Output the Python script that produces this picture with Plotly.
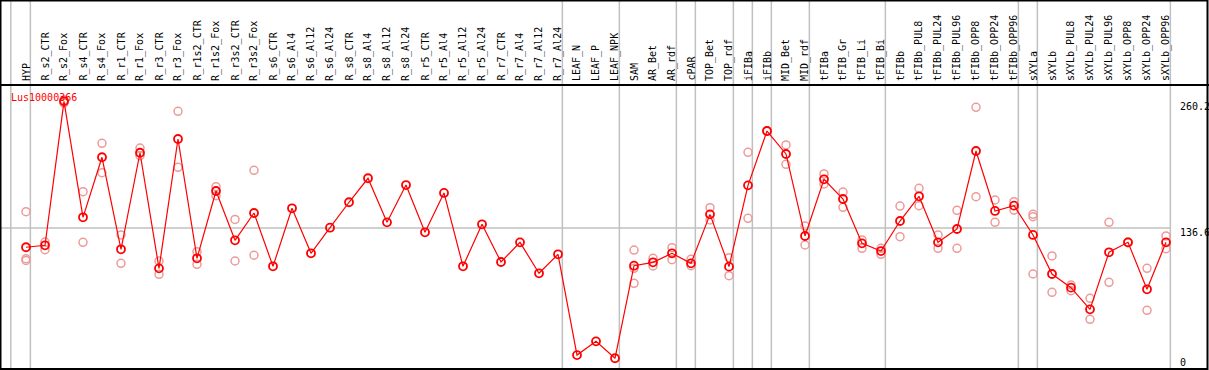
import plotly.graph_objects as go

categories = ["HYP", "R_s2_CTR", "R_s2_Fox", "R_s4_CTR", "R_s4_Fox", "R_r1_CTR", "R_r1_Fox",
              "R_r3_CTR", "R_r3_Fox", "R_r1s2_CTR", "R_r1s2_Fox", "R_r3s2_CTR", "R_r3s2_Fox",
              "R_s6_CTR", "R_s6_Al4", "R_s6_Al12", "R_s6_Al24", "R_s8_CTR", "R_s8_Al4",
              "R_s8_Al12", "R_s8_Al24", "R_r5_CTR", "R_r5_Al4", "R_r5_Al12", "R_r5_Al24",
              "R_r7_CTR", "R_r7_Al4", "R_r7_Al12", "R_r7_Al24", "LEAF_N", "LEAF_P", "LEAF_NPK",
              "SAM", "AR_Bet", "AR_rdf", "cPAR", "TOP_Bet", "TOP_rdf", "iFIBa", "iFIBb",
              "MID_Bet", "MID_rdf", "tFIBa", "tFIB_Gr", "tFIB_Li", "tFIB_Bi", "tFIBb",
              "tFIBb_PUL8", "tFIBb_PUL24", "tFIBb_PUL96", "tFIBb_OPP8", "tFIBb_OPP24",
              "tFIBb_OPP96", "sXYLa", "sXYLb", "sXYLb_PUL8", "sXYLb_PUL24", "sXYLb_PUL96",
              "sXYLb_OPP8", "sXYLb_OPP24", "sXYLb_OPP96"]

means = [117.8, 119.7, 260.2, 147.0, 205.6, 115.8, 210.0, 97.2, 223.4, 107.0, 172.7, 124.6,
         151.2, 99.2, 155.8, 111.9, 136.9, 161.7, 185.1, 142.1, 178.5, 132.4, 170.8, 99.2,
         140.2, 103.4, 122.6, 92.4, 110.9, 12.6, 26.0, 9.5, 99.8, 103.1, 111.9, 102.1,
         149.9, 98.9, 178.2, 231.2, 208.8, 128.8, 184.1, 164.9, 121.6, 114.1, 143.4,
         167.5, 122.6, 135.6, 211.7, 153.2, 158.4, 129.8, 91.7, 78.4, 57.2, 112.9,
         122.6, 76.8, 122.6]

replicates = [
    [152.5, 106.6, 105.0], [122.9, 115.4], [258.5, 261.5], [172.0, 122.6], [219.2, 190.5],
    [129.8, 102.1], [214.6, 207.1], [104.4, 91.4], [250.4, 195.8], [113.5, 101.2],
    [176.9, 168.1], [145.0, 104.4], [192.9, 110.0],
    [], [], [], [], [], [], [], [], [], [], [], [], [], [], [], [], [], [], [],
    [115.1, 97.3, 82.6], [107.0, 99.5], [117.4, 105.7], [106.0, 99.8], [156.4, 144.4],
    [107.6, 90.1], [210.4, 146.0], [231.5, 230.9], [217.6, 198.7], [138.5, 120.0],
    [189.3, 179.5], [171.7, 156.8], [124.9, 116.8], [116.8, 110.9], [158.0, 128.1],
    [175.3, 158.4], [129.8, 116.8], [153.8, 116.8], [254.3, 167.1], [163.9, 142.1],
    [162.3, 154.1], [149.9, 147.6, 91.7], [109.3, 73.8], [81.0, 75.4], [68.0, 47.5],
    [142.1, 83.6], [122.9, 122.3], [97.3, 56.3], [128.8, 116.4],
]

y_labels = ["260.2", "136.6", "0"]
title_text = "Lus10000366"
separator_after = [0, 28, 31, 34, 35, 37, 38, 39, 41, 45, 52, 53, 60]

W, H = 1209, 370
X0, DX = 26.0, 19.0
Y0, KY = 368.0, 1.025


def px(x):
    return x / W


def py(y):
    return 1 - y / H


FONT = "DejaVu Sans Mono"
RED = "#ff0000"
PINK = "#ee9a9a"
GRAY = "#c0c0c0"

rep_x, rep_y = [], []
for c, reps in zip(categories, replicates):
    for v in reps:
        rep_x.append(c)
        rep_y.append(v)

fig = go.Figure()
fig.add_trace(go.Scatter(x=rep_x, y=rep_y, mode="markers",
                         marker=dict(symbol="circle-open", size=8, color=PINK,
                                     line=dict(width=1.5, color=PINK)),
                         hoverinfo="skip", showlegend=False))
fig.add_trace(go.Scatter(x=categories, y=means, mode="lines+markers",
                         line=dict(color=RED, width=1.2),
                         marker=dict(symbol="circle-open", size=8, color=RED,
                                     line=dict(width=1.8, color=RED)),
                         showlegend=False))

shapes = []
sep_idx = [-0.8] + [i + 0.23 for i in separator_after]
for s in sep_idx:
    xpx = X0 + DX * s
    shapes.append(dict(type="line", xref="paper", yref="paper", x0=px(xpx), x1=px(xpx),
                       y0=0, y1=1, line=dict(color=GRAY, width=1.5), layer="below"))
mid_y = Y0 - KY * float(y_labels[1])
shapes.append(dict(type="line", xref="paper", yref="paper", x0=0, x1=px(1170),
                   y0=py(mid_y), y1=py(mid_y), line=dict(color=GRAY, width=1.5), layer="below"))
shapes.append(dict(type="rect", xref="paper", yref="paper", x0=px(0.5), x1=px(W - 1.5),
                   y0=py(H - 1), y1=py(0.5), line=dict(color="black", width=2)))
shapes.append(dict(type="line", xref="paper", yref="paper", x0=0, x1=1,
                   y0=py(85), y1=py(85), line=dict(color="black", width=2)))

annotations = []
for c in categories:
    annotations.append(dict(x=c, xref="x", y=py(83), yref="paper", text=c, showarrow=False,
                            textangle=-90, xanchor="center", yanchor="bottom",
                            font=dict(family=FONT, size=10, color="black")))
annotations.append(dict(x=px(9), y=py(97), xref="paper", yref="paper", text=title_text,
                        showarrow=False, xanchor="left", yanchor="middle",
                        font=dict(family=FONT, size=10, color=RED)))
for lab, ypos in zip(y_labels, [107, 232, 362]):
    annotations.append(dict(x=px(1178), y=py(ypos), xref="paper", yref="paper", text=lab,
                            showarrow=False, xanchor="left", yanchor="middle",
                            font=dict(family=FONT, size=10, color="black")))

fig.update_layout(
    width=W, height=H, margin=dict(l=0, r=0, t=0, b=0),
    paper_bgcolor="white", plot_bgcolor="white",
    xaxis=dict(type="category", categoryorder="array", categoryarray=categories,
               range=[-X0 / DX, (W - X0) / DX], showgrid=False, zeroline=False,
               showticklabels=False, ticks="", fixedrange=True),
    yaxis=dict(range=[(Y0 - H) / KY, Y0 / KY], showgrid=False, zeroline=False,
               showticklabels=False, ticks="", fixedrange=True),
    shapes=shapes, annotations=annotations,
)

fig.write_html("out.html", config={"displayModeBar": False},
               post_script="document.body.style.margin='0';document.body.style.overflow='hidden';")
